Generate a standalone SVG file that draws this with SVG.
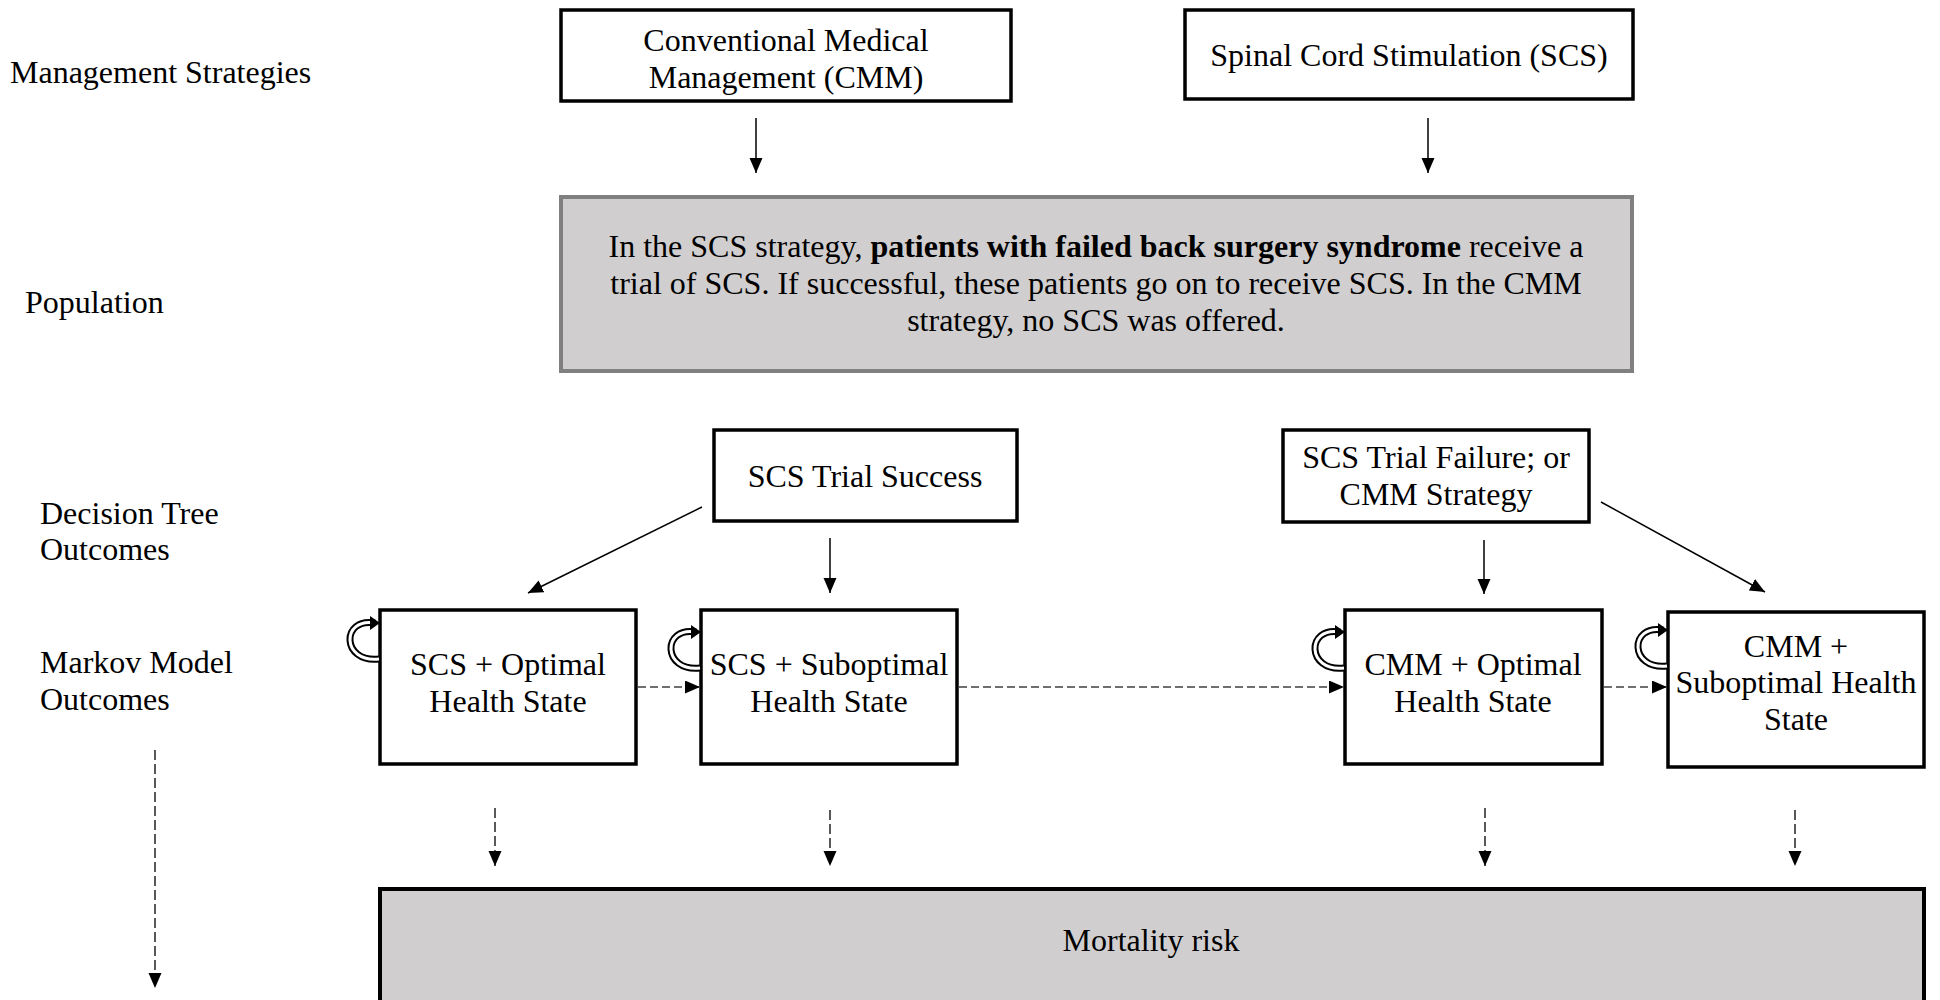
<svg xmlns="http://www.w3.org/2000/svg" width="1940" height="1000" viewBox="0 0 1940 1000">
<style>
text{font-family:"Liberation Serif","Times New Roman",serif;font-size:32px;fill:#000}
.c{text-anchor:middle}
.box{fill:#fff;stroke:#000;stroke-width:3.5}
.grey{fill:#d0cece;stroke:#808080;stroke-width:4}
.greyb{fill:#d0cece;stroke:#000;stroke-width:4}
.sol{stroke:#000;stroke-width:1.5;fill:none;marker-end:url(#ah)}
.dh{stroke:#404040;stroke-width:1.6;fill:none;stroke-dasharray:8 4;marker-end:url(#ah)}
.dv{stroke:#000;stroke-width:1.3;fill:none;stroke-dasharray:10 4;marker-end:url(#ah)}
.lo{fill:none;stroke:#000;stroke-width:7}
.li{fill:none;stroke:#fff;stroke-width:3}
</style>
<defs>
<marker id="ah" markerUnits="userSpaceOnUse" markerWidth="16" markerHeight="14" refX="15" refY="6.5" orient="auto">
<path d="M0,0 L15,6.5 L0,13 Z" fill="#000"/>
</marker>
<g id="loop">
<path class="lo" d="M-4,6 C-38,0 -38,46 0,42"/>
<path class="li" d="M-4,6 C-38,0 -38,46 0,42"/>
<path d="M1,6 L-9,-1 L-9,13 Z" fill="#000"/>
</g>
</defs>

<g id="labels">
<text x="10" y="83">Management Strategies</text>
<text x="25" y="313">Population</text>
<text x="40" y="524">Decision Tree</text>
<text x="40" y="560">Outcomes</text>
<text x="40" y="673">Markov Model</text>
<text x="40" y="710">Outcomes</text>
</g>

<g id="node-cmm">
<rect class="box" x="561" y="10" width="450" height="91"/>
<text class="c" x="786" y="51">Conventional Medical</text>
<text class="c" x="786" y="88">Management (CMM)</text>
</g>
<g id="node-scs">
<rect class="box" x="1185" y="10" width="448" height="89"/>
<text class="c" x="1409" y="66">Spinal Cord Stimulation (SCS)</text>
</g>
<g id="node-population">
<rect class="grey" x="561" y="197" width="1071" height="174"/>
<text class="c" x="1096" y="257">In the SCS strategy, <tspan font-weight="bold">patients with failed back surgery syndrome</tspan> receive a</text>
<text class="c" x="1096" y="294">trial of SCS. If successful, these patients go on to receive SCS. In the CMM</text>
<text class="c" x="1096" y="331">strategy, no SCS was offered.</text>
</g>
<g id="node-success">
<rect class="box" x="714" y="430" width="303" height="91"/>
<text class="c" x="865" y="487">SCS Trial Success</text>
</g>
<g id="node-failure">
<rect class="box" x="1283" y="430" width="306" height="92"/>
<text class="c" x="1436" y="468">SCS Trial Failure; or</text>
<text class="c" x="1436" y="505">CMM Strategy</text>
</g>
<g id="node-scs-opt">
<rect class="box" x="380" y="610" width="256" height="154"/>
<text class="c" x="508" y="675">SCS + Optimal</text>
<text class="c" x="508" y="712">Health State</text>
<use href="#loop" x="379" y="617"/>
</g>
<g id="node-scs-sub">
<rect class="box" x="701" y="610" width="256" height="154"/>
<text class="c" x="829" y="675">SCS + Suboptimal</text>
<text class="c" x="829" y="712">Health State</text>
<use href="#loop" x="700" y="626"/>
</g>
<g id="node-cmm-opt">
<rect class="box" x="1345" y="610" width="257" height="154"/>
<text class="c" x="1473" y="675">CMM + Optimal</text>
<text class="c" x="1473" y="712">Health State</text>
<use href="#loop" x="1344" y="626"/>
</g>
<g id="node-cmm-sub">
<rect class="box" x="1668" y="612" width="256" height="155"/>
<text class="c" x="1796" y="657">CMM +</text>
<text class="c" x="1796" y="693">Suboptimal Health</text>
<text class="c" x="1796" y="730">State</text>
<use href="#loop" x="1667" y="624"/>
</g>
<g id="node-mortality">
<rect class="greyb" x="380" y="889" width="1544" height="120"/>
<text class="c" x="1151" y="951">Mortality risk</text>
</g>

<g id="connectors">
<path class="sol" d="M756,118 V173"/>
<path class="sol" d="M1428,118 V173"/>
<path class="sol" d="M702,507 L528,593"/>
<path class="sol" d="M830,538 V593"/>
<path class="sol" d="M1484,540 V594"/>
<path class="sol" d="M1601,502 L1765,592"/>
<path class="dh" d="M638,687 H700"/>
<path class="dh" d="M959,687 H1344"/>
<path class="dh" d="M1604,687 H1667"/>
<path class="dv" d="M495,808 V866"/>
<path class="dv" d="M830,810 V866"/>
<path class="dv" d="M1485,808 V866"/>
<path class="dv" d="M1795,810 V866"/>
<path class="dv" d="M155,750 V988"/>
</g>
</svg>
